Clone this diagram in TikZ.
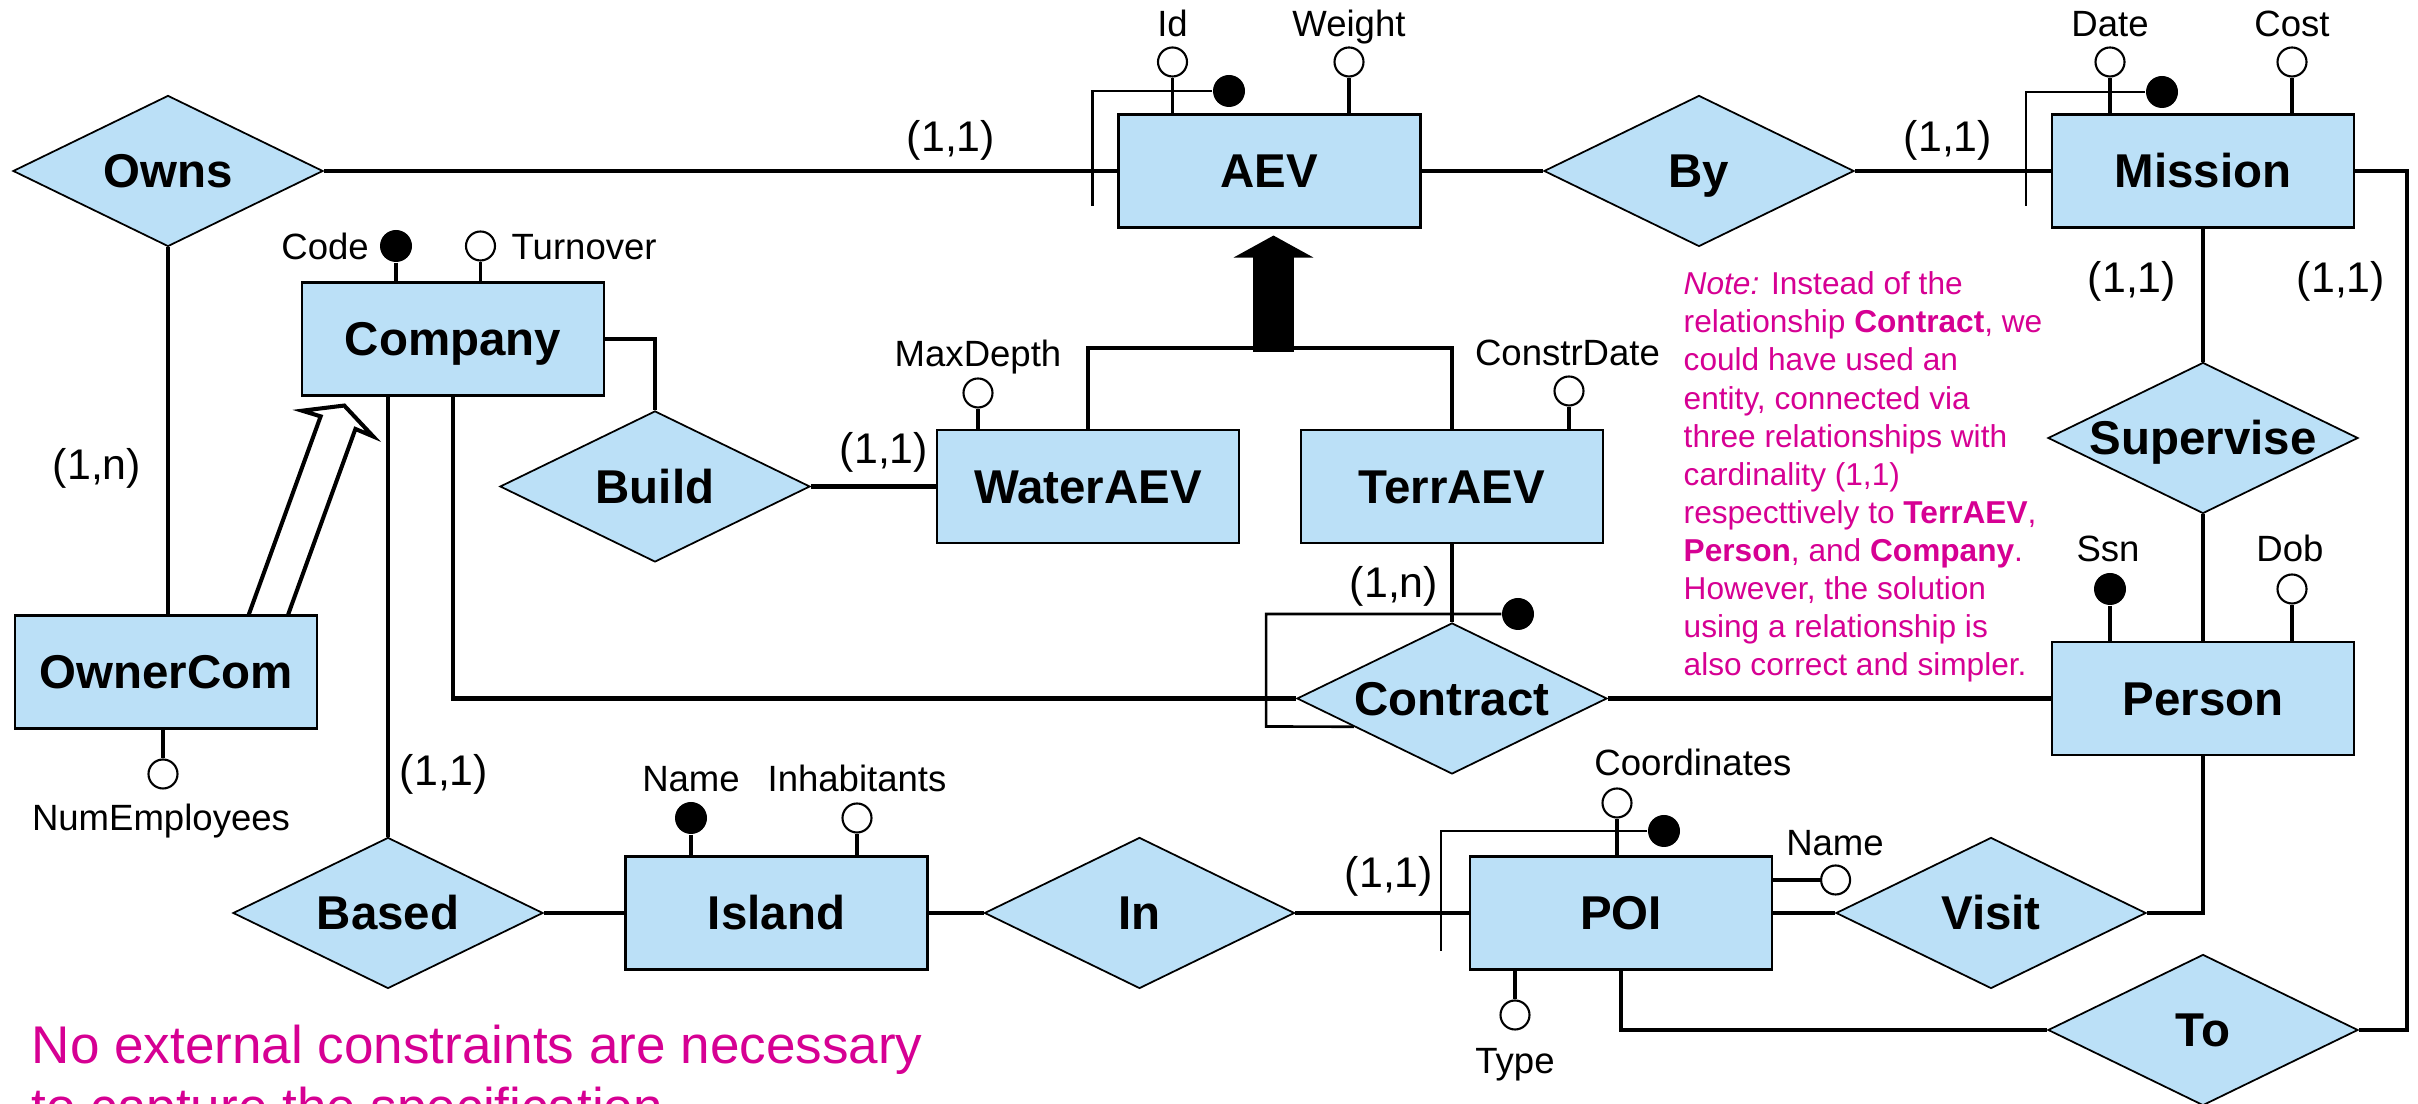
\documentclass[tikz,border=0pt]{standalone}
\usepackage{fontspec}
\setmainfont{Liberation Sans}
\usetikzlibrary{positioning,shapes.geometric,arrows.meta,calc}
\definecolor{erblue}{RGB}{187,224,247}
\definecolor{notemag}{RGB}{214,0,147}

\begin{document}
\begin{tikzpicture}[
    entity/.style={draw,line width=0.6pt,fill=erblue,minimum width=3.02cm,minimum height=1.13cm,inner sep=0pt,text height=0.34cm,text depth=0pt,font=\fontsize{13.5}{16}\selectfont\bfseries},
    relation/.style={diamond,draw,line width=0.5pt,fill=erblue,aspect=2,minimum width=3.1cm,minimum height=1.51cm,inner sep=0pt,text height=0.34cm,text depth=0pt,font=\fontsize{13.5}{16}\selectfont\bfseries},
    attr/.style={circle,draw,fill=white,line width=0.6pt,minimum size=0.29cm,inner sep=0pt},
    keyattr/.style={circle,fill=black,minimum size=0.32cm,inner sep=0pt},
    attrlabel/.style={anchor=base,inner sep=0pt,font=\fontsize{10.4}{12}\selectfont},
    card/.style={anchor=base,inner sep=0pt,font=\fontsize{12.2}{14}\selectfont},
    link/.style={line width=1.3pt},
    stem/.style={line width=1pt},
    ident/.style={line width=0.75pt},
    gen/.style={line width=1.15pt,line join=miter},
    isa/.style={line width=0.41cm,-{Triangle[width=0.79cm,length=0.22cm]}},
    notetext/.style={anchor=base west,align=left,inner sep=0pt,text=notemag}
  ]
    \useasboundingbox (0,0) rectangle (24.18,-11.04);

    \node[entity] (AEV) at (12.695,-1.71) {AEV};
    \node[entity] (Mission) at (22.03,-1.71) {Mission};
    \node[entity] (Company) at (4.53,-3.39) {Company};
    \node[entity] (WaterAEV) at (10.88,-4.865) {WaterAEV};
    \node[entity] (TerrAEV) at (14.52,-4.865) {TerrAEV};
    \node[entity] (OwnerCom) at (1.66,-6.72) {OwnerCom};
    \node[entity] (Person) at (22.03,-6.985) {Person};
    \node[entity] (Island) at (7.765,-9.13) {Island};
    \node[entity] (POI) at (16.21,-9.13) {POI};

    \node[relation] (Owns) at (1.68,-1.71) {Owns};
    \node[relation] (By) at (16.99,-1.71) {By};
    \node[relation] (Build) at (6.55,-4.865) {Build};
    \node[relation] (Supervise) at (22.03,-4.38) {Supervise};
    \node[relation] (Contract) at (14.52,-6.985) {Contract};
    \node[relation] (Based) at (3.88,-9.13) {Based};
    \node[relation] (In) at (11.395,-9.13) {In};
    \node[relation] (Visit) at (19.91,-9.13) {Visit};
    \node[relation] (To) at (22.03,-10.30) {To};

    \draw[link] (Owns.east) -- (AEV.west);
    \draw[link] (AEV.east) -- (By.west);
    \draw[link] (By.east) -- (Mission.west);
    \draw[link] (Owns.south) -- (Owns.south |- OwnerCom.north);
    \draw[link] (Company.east) -| (Build.north);
    \draw[link] (Build.east) -- (WaterAEV.west);
    \coordinate (hierJoin) at (12.735,-3.48);
    \draw[link] (WaterAEV.north) |- (hierJoin) -| (TerrAEV.north);
    \draw[isa] ($(hierJoin)+(0,-0.04)$) -- ($(hierJoin |- AEV.south)+(0,-0.07)$);
    \draw[link] (TerrAEV.south) -- (Contract.north);
    \draw[link] (Company.south) |- (Contract.west);
    \draw[link] (Based.north |- Company.south) -- (Based.north);
    \draw[link] (Contract.east) -- (Person.west);
    \draw[link] (Mission.south) -- (Supervise.north);
    \draw[link] (Supervise.south) -- (Person.north);
    \draw[link] (Mission.east) -- ++(0.52,0) |- (To.east);
    \draw[link] (Based.east) -- (Island.west);
    \draw[link] (Island.east) -- (In.west);
    \draw[link] (In.east) -- (POI.west);
    \draw[link] (POI.east) -- (Visit.west);
    \draw[link] (Visit.east) -| (Person.south);
    \draw[link] (POI.south) |- (To.west);

    \coordinate (ocTail) at ($(OwnerCom.north)+(1.025,0)$);
    \draw[gen,shift={(ocTail)},rotate=70.07] (0.067,-0.185) -- (2.04,-0.185) -- (2.03,-0.378) -- (2.222,0) -- (2.03,0.378) -- (2.04,0.185) -- (-0.067,0.185);

    \node[attr] (aevId) at (11.725,-0.62) {};
    \node[attr] (aevWeight) at (13.49,-0.62) {};
    \node[keyattr] (aevKey) at (12.29,-0.91) {};
    \node[attr] (misDate) at (21.10,-0.62) {};
    \node[attr] (misCost) at (22.92,-0.62) {};
    \node[keyattr] (misKey) at (21.62,-0.92) {};
    \node[keyattr] (comCode) at (3.96,-2.46) {};
    \node[attr] (comTurnover) at (4.805,-2.46) {};
    \node[attr] (watDepth) at (9.78,-3.93) {};
    \node[attr] (terDate) at (15.69,-3.91) {};
    \node[attr] (ocEmp) at (1.63,-7.74) {};
    \node[keyattr] (islName) at (6.91,-8.18) {};
    \node[attr] (islInhab) at (8.57,-8.18) {};
    \node[attr] (poiCoord) at (16.17,-8.03) {};
    \node[keyattr] (poiKey) at (16.64,-8.31) {};
    \node[attr] (poiName) at (18.356,-8.80) {};
    \node[attr] (poiType) at (15.15,-10.15) {};
    \node[keyattr] (perSsn) at (21.10,-5.89) {};
    \node[attr] (perDob) at (22.92,-5.89) {};
    \node[keyattr] (conKey) at (15.18,-6.14) {};

    \draw[stem] (aevId) -- (aevId |- AEV.north);
    \draw[stem] (aevWeight) -- (aevWeight |- AEV.north);
    \draw[stem] (misDate) -- (misDate |- Mission.north);
    \draw[stem] (misCost) -- (misCost |- Mission.north);
    \draw[stem] (comCode) -- (comCode |- Company.north);
    \draw[stem] (comTurnover) -- (comTurnover |- Company.north);
    \draw[stem] (watDepth) -- (watDepth |- WaterAEV.north);
    \draw[stem] (terDate) -- (terDate |- TerrAEV.north);
    \draw[stem] (ocEmp) -- (ocEmp |- OwnerCom.south);
    \draw[stem] (islName) -- (islName |- Island.north);
    \draw[stem] (islInhab) -- (islInhab |- Island.north);
    \draw[stem] (poiCoord) -- (poiCoord |- POI.north);
    \draw[stem] (poiName) -- (poiName -| POI.east);
    \draw[stem] (poiType) -- (poiType |- POI.south);
    \draw[stem] (perSsn) -- (perSsn |- Person.north);
    \draw[stem] (perDob) -- (perDob |- Person.north);

    \draw[ident] (aevKey) -| ($(AEV.south west)+(-0.25,0.23)$);
    \draw[ident] (misKey) -| ($(Mission.south west)+(-0.25,0.23)$);
    \draw[ident] (poiKey) -| ($(POI.south west)+(-0.28,0.2)$);
    \draw[ident] (conKey) -| ($(Contract.west)+(-0.30,-0.28)$) -- ($(Contract.west)!0.37!(Contract.south)$);

    \node[attrlabel] (aevIdL) at (11.725,-0.37) {Id};
    \node[attrlabel] (aevWeightL) at (13.49,-0.37) {Weight};
    \node[attrlabel] (misDateL) at (21.10,-0.37) {Date};
    \node[attrlabel] (misCostL) at (22.92,-0.37) {Cost};
    \node[attrlabel,anchor=base east] (comCodeL) at (3.695,-2.60) {Code};
    \node[attrlabel,anchor=base west] (comTurnoverL) at (5.11,-2.60) {Turnover};
    \node[attrlabel] (watDepthL) at (9.78,-3.67) {MaxDepth};
    \node[attrlabel] (terDateL) at (15.675,-3.66) {ConstrDate};
    \node[attrlabel] (ocEmpL) at (1.61,-8.31) {NumEmployees};
    \node[attrlabel] (islNameL) at (6.91,-7.92) {Name};
    \node[attrlabel] (islInhabL) at (8.57,-7.92) {Inhabitants};
    \node[attrlabel] (poiCoordL) at (16.93,-7.76) {Coordinates};
    \node[attrlabel] (poiNameL) at (18.35,-8.56) {Name};
    \node[attrlabel] (poiTypeL) at (15.15,-10.74) {Type};
    \node[attrlabel] (perSsnL) at (21.08,-5.62) {Ssn};
    \node[attrlabel] (perDobL) at (22.90,-5.62) {Dob};

    \node[card] (cOwnsAEV) at (9.51,-1.52) {(1,1)};
    \node[card] (cByMis) at (19.48,-1.52) {(1,1)};
    \node[card] (cOwnsCom) at (0.97,-4.80) {(1,n)};
    \node[card] (cBuild) at (8.84,-4.64) {(1,1)};
    \node[card] (cSupMis) at (21.32,-2.93) {(1,1)};
    \node[card] (cToMis) at (23.41,-2.93) {(1,1)};
    \node[card] (cContract) at (13.94,-5.98) {(1,n)};
    \node[card] (cBased) at (4.44,-7.86) {(1,1)};
    \node[card] (cIn) at (13.89,-8.88) {(1,1)};

    \node[notetext,font=\fontsize{9}{10.85}\selectfont] (note) at (16.83,-6.76) {\textit{Note:} Instead of the\\relationship \textbf{Contract}, we\\could have used an\\entity, connected via\\three relationships with\\cardinality (1,1)\\respecttively to \textbf{TerrAEV},\\\textbf{Person}, and \textbf{Company}.\\However, the solution\\using a relationship is\\also correct and simpler.};
    \node[notetext,font=\fontsize{15.1}{17.6}\selectfont] (concl) at (0.31,-11.255) {No external constraints are necessary\\to capture the specification};
\end{tikzpicture}
\end{document}
